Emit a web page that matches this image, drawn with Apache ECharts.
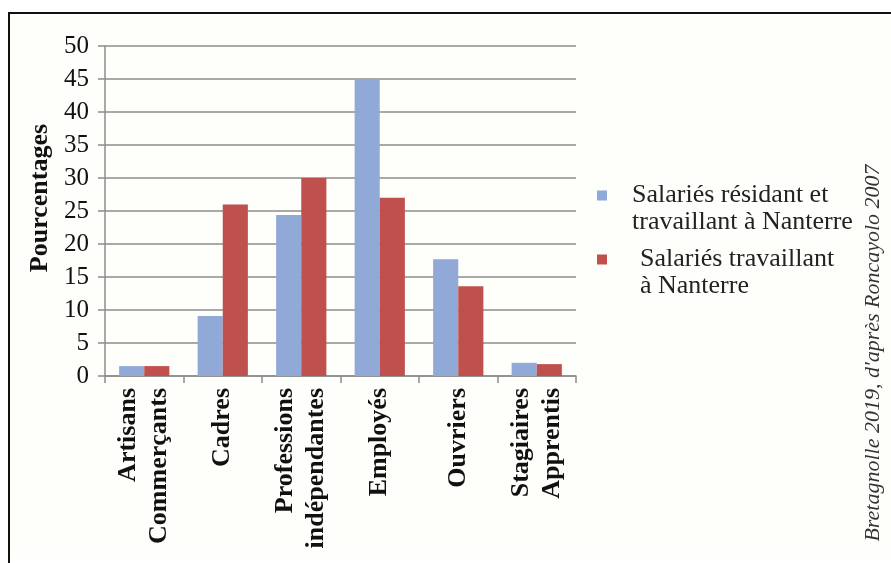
<!DOCTYPE html>
<html><head><meta charset="utf-8">
<script src="https://cdn.jsdelivr.net/npm/echarts@6/dist/echarts.min.js"></script>
<style>html,body{margin:0;padding:0;background:#fff}#c{width:891px;height:563px}</style>
</head><body><div id="c"></div>
<script>
const categories = ['Artisans\nCommerçants', 'Cadres', 'Professions\nindépendantes', 'Employés', 'Ouvriers', 'Stagiaires\nApprentis'];
const seriesNames = ['Salariés résidant et\ntravaillant à Nanterre', 'Salariés travaillant\nà Nanterre'];
const residentsValues = [1.5, 9.1, 24.4, 45, 17.7, 2.0];
const workersValues = [1.5, 26, 30, 27, 13.6, 1.8];
const yAxisName = 'Pourcentages';
const sourceText = "Bretagnolle 2019, d'après Roncayolo 2007";

const serif = "'Liberation Serif','Times New Roman',serif";
const chart = echarts.init(document.getElementById('c'));
chart.setOption({
  backgroundColor: '#ffffff',
  animation: false,
  graphic: [
    { type: 'rect', z: -10, shape: { x: 9, y: 13, width: 900, height: 545 },
      style: { fill: '#fefefb' } },
    { type: 'polyline', z: -9, shape: { points: [[9, 570], [9, 13], [900, 13]] },
      style: { stroke: '#111', lineWidth: 2, fill: null } },
    { type: 'text', x: 873, y: 353, rotation: Math.PI / 2,
      style: { text: sourceText, font: 'italic 22px ' + serif, fill: '#333', align: 'center', verticalAlign: 'middle' } }
  ],
  grid: { left: 105, right: 315, top: 46, bottom: 187, containLabel: false },
  legend: {
    orient: 'vertical', left: 592, top: 150, itemGap: -17,
    icon: 'rect', itemWidth: 10, itemHeight: 10,
    formatter: function (name) { return '\n' + name; },
    textStyle: { fontFamily: serif, fontSize: 26, color: '#222', lineHeight: 27, padding: [0, 0, 0, 20] },
    data: [
      { name: seriesNames[0] },
      { name: seriesNames[1], textStyle: { padding: [0, 0, 0, 28] } }
    ]
  },
  xAxis: {
    type: 'category', data: categories,
    axisLine: { lineStyle: { color: '#8c8c8c', width: 1.5 } },
    axisTick: { show: true, length: 7, lineStyle: { color: '#8c8c8c', width: 1.5 } },
    axisLabel: { rotate: 90, interval: 0, margin: 12, fontFamily: serif, fontSize: 26, fontWeight: 'bold', color: '#111', lineHeight: 31 }
  },
  yAxis: {
    type: 'value', min: 0, max: 50, interval: 5,
    name: yAxisName, nameLocation: 'middle', nameGap: 48,
    nameTextStyle: { fontFamily: serif, fontSize: 26, fontWeight: 'bold', color: '#111', padding: [0, 0, 0, 26] },
    axisLine: { show: true, lineStyle: { color: '#8c8c8c', width: 1.5 } },
    axisTick: { show: true, length: 7, lineStyle: { color: '#8c8c8c', width: 1.5 } },
    axisLabel: { fontFamily: serif, fontSize: 25, color: '#111', margin: 16 },
    splitLine: { lineStyle: { color: '#8c8c8c', width: 1.5 } }
  },
  series: [
    { name: seriesNames[0], type: 'bar', data: residentsValues, barGap: '0%', barCategoryGap: '36%',
      itemStyle: { color: '#91a9d7' } },
    { name: seriesNames[1], type: 'bar', data: workersValues,
      itemStyle: { color: '#c0504d' } }
  ]
});
</script></body></html>
